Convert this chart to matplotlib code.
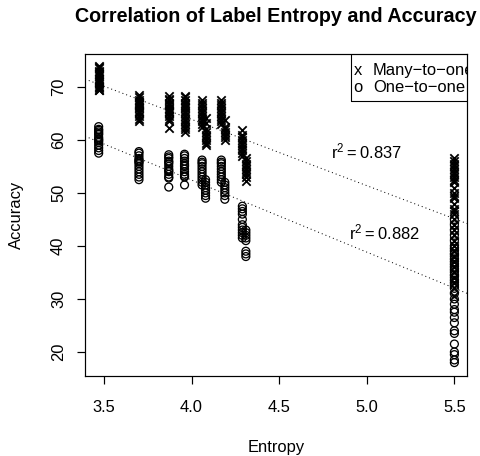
import numpy as np
import matplotlib
matplotlib.use("Agg")
import matplotlib.pyplot as plt
from matplotlib.patches import Rectangle

plt.rcParams['font.family'] = ['Liberation Sans', 'DejaVu Sans']

# entropy of each group of runs and the accuracies measured there
many_levels = [3.47, 3.70, 3.87, 3.96, 4.06, 4.08, 4.17, 4.19, 4.29, 4.31, 5.50]
many_acc = [
    [74, 73.5, 73, 72.5, 72, 71.5, 71, 70.5, 70, 69.5, 69.4, 73.8, 72.8, 71.2, 70.2, 69.8],
    [68.5, 68, 67.5, 67, 66.8, 66.5, 66, 65.5, 65.2, 65, 64.5, 64, 63.5, 67.2, 66.2],
    [68.2, 67.8, 67.5, 67, 66.5, 66, 65.8, 65.5, 65, 64.5, 64, 63.5, 62.2, 66.8, 65.2],
    [68.3, 68, 67.5, 67, 66.5, 66, 65.5, 65, 64.5, 64, 63.5, 63, 62.5, 62, 61.5, 66.2],
    [67.5, 67, 66.5, 66, 65.5, 65, 64.5, 64, 63.5, 63, 62.5],
    [62, 61.5, 61, 60.5, 60, 59.5, 59, 63.2, 64.2],
    [67.5, 67, 66.5, 66, 65.5, 65, 64.5, 64, 63.5, 63],
    [62.5, 62, 61.5, 61, 60.5, 60, 63.8],
    [61.8, 61, 60.5, 60, 59.5, 59, 58.5, 58, 57.5, 57],
    [56.5, 56, 55.5, 55, 54.5, 54, 53.5, 53, 52.2],
    [56.5, 56, 55.5, 55, 54.5, 54, 53.5, 53, 52.5, 52, 51, 50, 49.5, 49, 48, 47,
     46.5, 46, 45, 44, 43, 42, 41, 40, 39, 38, 37, 36, 35, 34, 33, 32, 30.5],
]
one_levels = [3.47, 3.70, 3.87, 3.96, 4.06, 4.08, 4.17, 4.19, 4.29, 4.31, 5.50]
one_acc = [
    [62.5, 62, 61.8, 61.5, 61, 60.5, 60, 59.8, 59.5, 59, 58.5, 58, 57.5, 61.2, 60.2],
    [57.8, 57.5, 57, 56.5, 56, 55.8, 55.5, 55, 54.5, 54, 53.5, 53, 52.5, 56.2],
    [57.2, 56.8, 56.5, 56, 55.5, 55, 54.5, 54.2, 54, 53.5, 53, 52.8, 51.1, 55.8],
    [57.3, 57, 56.5, 56, 55.5, 55, 54.5, 54, 53.5, 53.2, 53, 51.5, 55.2],
    [56.2, 55.8, 55.5, 55, 54.5, 54, 53.5, 53, 52.5, 52, 51.5],
    [52.5, 52, 51.5, 51, 50.5, 50, 49.5, 49],
    [56.2, 55.8, 55.5, 55, 54.5, 54, 53.5, 53, 52.5, 52],
    [52, 51.5, 51, 50.5, 50, 49.5, 48.8],
    [47.5, 47, 46.5, 46, 45, 44, 43.5, 43, 42.5, 42, 41.5],
    [43, 42.5, 42, 41.5, 41, 39, 38.5, 38],
    [45, 44, 43, 42, 41, 40, 39.5, 39, 38.5, 38, 37.5, 37, 36.5, 36, 35.5, 35,
     34.5, 34, 33.5, 33, 32.5, 32, 31, 30, 29, 28, 27.5, 26.5, 25.5, 24, 23.5,
     21.5, 20, 19.5, 18.5, 18],
]
r2_labels = ["0.837", "0.882"]
legend_labels = ["Many\u2212to\u2212one", "One\u2212to\u2212one"]

FS = 16.5


def flatten(levels, accs):
    xs, ys = [], []
    for lv, vals in zip(levels, accs):
        xs += [lv] * len(vals)
        ys += vals
    return np.array(xs), np.array(ys)


mx, my = flatten(many_levels, many_acc)
ox, oy = flatten(one_levels, one_acc)

fig = plt.figure(figsize=(480 / 72, 456 / 72), dpi=72)
ax = fig.add_axes([85 / 480, 80 / 456, 382 / 480, 322 / 456])

ax.scatter(mx, my, marker='x', s=70, c='black', linewidths=1.8)
ax.scatter(ox, oy, marker='o', s=62, facecolors='none', edgecolors='black', linewidths=1.3)

# least squares fits, dotted like R's abline(lty=3)
for xs, ys in [(mx, my), (ox, oy)]:
    slope, icpt = np.polyfit(xs, ys, 1)
    ax.axline((0, icpt), slope=slope, color='black', lw=1.0, linestyle=(0, (1, 3)))

ax.text(5.0, 57.8, r"$\mathregular{r^2 = %s}$" % r2_labels[0], ha='center', va='center', fontsize=FS)
ax.text(5.1, 42.6, r"$\mathregular{r^2 = %s}$" % r2_labels[1], ha='center', va='center', fontsize=FS)

# legend box sticks out of the plot region and is clipped, as in the original
ax.add_patch(Rectangle((0.696, 0.854), 0.5, 0.5, transform=ax.transAxes,
                       fill=False, edgecolor='black', lw=1.1, clip_on=True))
for i, (sym, lab) in enumerate(zip(['x', 'o'], legend_labels)):
    yy = 0.950 - i * 0.0525
    ax.text(0.715, yy, sym, transform=ax.transAxes, ha='center', va='center', fontsize=FS, clip_on=True)
    ax.text(0.754, yy, lab, transform=ax.transAxes, ha='left', va='center', fontsize=FS, clip_on=True)

for sp in ax.spines.values():
    sp.set_linewidth(1.2)

ax.set_xlim(3.392, 5.572)
ax.set_ylim(15.47, 76.2)
ax.set_xticks([3.5, 4.0, 4.5, 5.0, 5.5])
ax.set_xticklabels(["3.5", "4.0", "4.5", "5.0", "5.5"])
ax.set_yticks([20, 30, 40, 50, 60, 70])
ax.tick_params(axis='both', length=8, width=1.2, labelsize=FS)
ax.tick_params(axis='x', pad=16)
ax.tick_params(axis='y', pad=11)
for lbl in ax.get_yticklabels():
    lbl.set_rotation(90)
    lbl.set_va('center')

ax.set_xlabel("Entropy", fontsize=FS, labelpad=25)
ax.set_ylabel("Accuracy", fontsize=FS, labelpad=27)
ax.set_title("Correlation of Label Entropy and Accuracy", fontsize=19.8, fontweight='bold', pad=32)

fig.savefig("out.png", dpi=72)
